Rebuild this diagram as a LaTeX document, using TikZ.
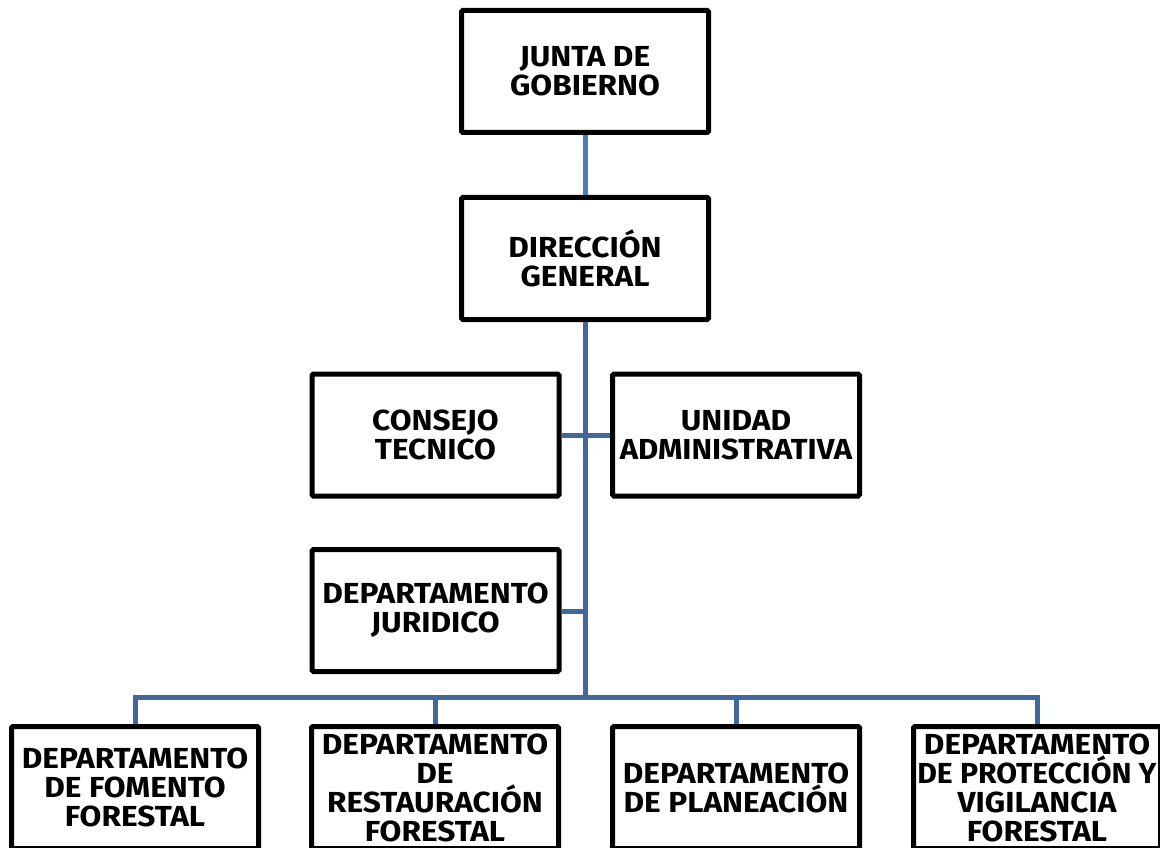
\documentclass[tikz,border=0pt]{standalone}
\usepackage{fontspec}
\usepackage{graphicx}
\setmainfont{Fira Sans}
\newcommand\sx[2][1.09]{\scalebox{#1}[1]{#2}}
\begin{document}
\begin{tikzpicture}[x=1pt,y=-1pt,
  box/.style={draw=black,line width=5pt,rounded corners=1.5pt,fill=white,
    minimum width=247pt,minimum height=122pt,inner sep=0pt,align=center,
    font=\fontsize{29}{29}\selectfont\bfseries},
  link/.style={draw=linkblue,line width=5pt},
  toplink/.style={draw=topblue,line width=5pt}]
\definecolor{linkblue}{HTML}{41689A}
\definecolor{topblue}{HTML}{4A7DBA}
\useasboundingbox (0,0) rectangle (1160,848);
\clip (0,0) rectangle (1160,848);
\fill[white] (0,0) rectangle (1160,848);
\coordinate (hub) at (585,697);
\coordinate (jj) at (585,611);
\node[box] (junta) at (585,71.5) {\sx{JUNTA DE}\\\sx{GOBIERNO}};
\node[box] (dir) at (585,258.5) {\sx{DIRECCIÓN}\\\sx{GENERAL}};
\node[box] (consejo) at (435.5,435) {\sx{CONSEJO}\\\sx{TECNICO}};
\node[box] (unidad) at (736,435) {\sx{UNIDAD}\\\sx[1.07]{ADMINISTRATIVA}};
\node[box] (jur) at (435.5,610.5) {\sx{DEPARTAMENTO}\\\sx{JURIDICO}};
\node[box] (b1) at (135,787.5) {\sx{DEPARTAMENTO}\\\sx{DE FOMENTO}\\\sx{FORESTAL}};
\node[box] (b2) at (435,787.5) {\sx{DEPARTAMENTO}\\\sx{DE}\\\sx{RESTAURACIÓN}\\\sx{FORESTAL}};
\node[box] (b3) at (736,787.5) {\sx{DEPARTAMENTO}\\\sx{DE PLANEACIÓN}};
\node[box] (b4) at (1037,787.5) {\sx{DEPARTAMENTO}\\\sx[1.04]{DE PROTECCIÓN Y}\\\sx{VIGILANCIA}\\\sx{FORESTAL}};
\draw[toplink] (junta.south) -- (dir.north);
\draw[link] (dir.south) -- (hub);
\draw[link] (consejo.east) -- (unidad.west);
\draw[link] (jur.east |- jj) -- (jj);
\draw[link] (b1.north) |- (hub) -| (b4.north);
\draw[link] (b2.north) -- (b2.north |- hub);
\draw[link] (b3.north) -- (b3.north |- hub);
\end{tikzpicture}
\end{document}
